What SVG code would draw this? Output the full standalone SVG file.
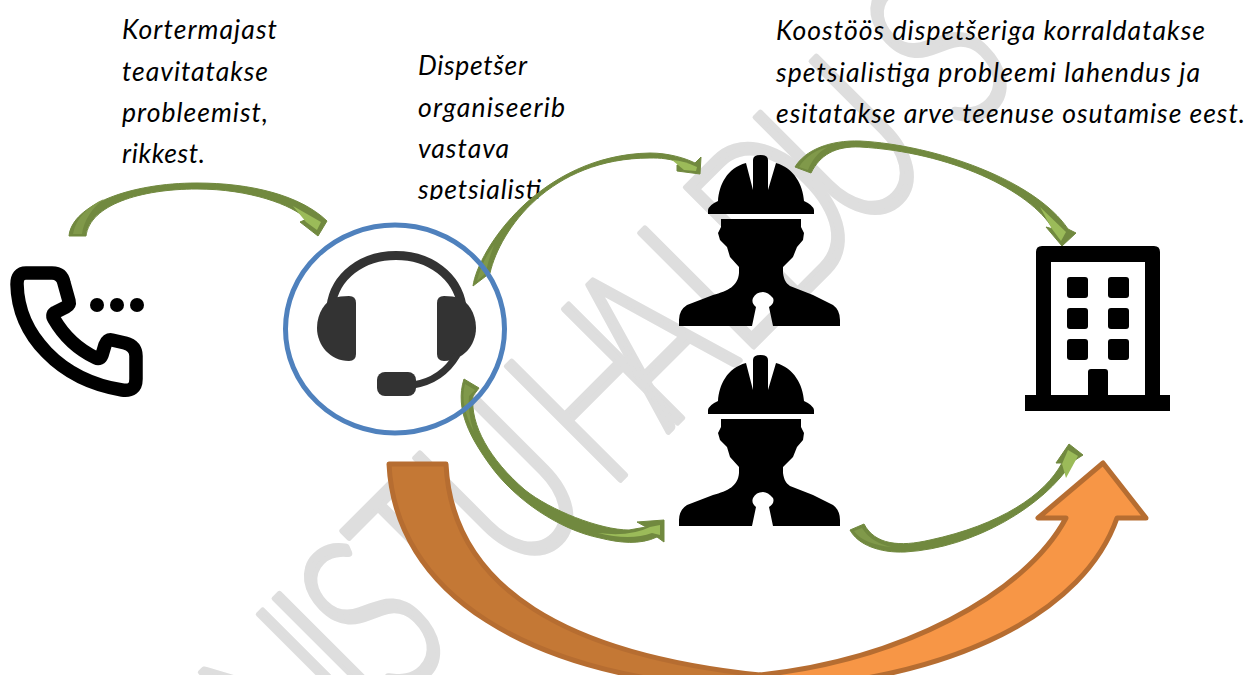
<svg xmlns="http://www.w3.org/2000/svg" xmlns:xlink="http://www.w3.org/1999/xlink" width="1248" height="675" viewBox="0 0 1248 675">
<style>
.lbl{font-family:Lato,"Open Sans","Liberation Sans",sans-serif;font-style:italic;font-size:26.5px;fill:#000}
.wm{font-family:Lato,"Open Sans","Liberation Sans",sans-serif;font-size:227px;font-weight:300;fill:#dedede;stroke:#dedede;stroke-width:5.5;stroke-linejoin:round}
.gr{fill:#71893f;stroke:#71893f;stroke-width:1;stroke-linejoin:round}
.lt{fill:#9bbb59}
.md{fill:#80994a}
.hs{fill:#333}
.or{stroke:#b66d31;stroke-width:5;stroke-linejoin:round}
</style>
<defs>
<clipPath id="c2"><rect x="400" y="40" width="200" height="160"/></clipPath>
<g id="worker">
<path d="M708 214V210Q709 205 718 201C719 185 727 168 746 163L753 190V160Q753 155 760.5 155Q768 155 768 160V190L776 163C794 168 803 185 804 201Q813 205 814 210V214Z"/>
<path d="M721 219H801V227L804 233L803 240L797 247L793 257L783 267V273C784 280 786 283 790 286L813 295L833 305Q840 310 840 320V326H773L769 307Q775 303 773 298Q768 292 763 292Q756 292 753 298Q751 303 756 307L752 326H679V320Q679 310 687 305L713 295C728 291 738 286 739 273V267L730 257L727 247L720 240L718 233L721 227Z"/>
</g>
</defs>
<rect width="1248" height="675" fill="#fff"/>
<g id="watermark" transform="rotate(-45) scale(.72,1)">
<text class="wm" y="778" x="-488 -343 -300 -190 -65 0 113 228 375 465 604 813">NISTU HALDUS</text>
</g>
<g id="labels">
<text class="lbl" x="122" y="39" textLength="155">Kortermajast</text>
<text class="lbl" x="122" y="81" textLength="146">teavitatakse</text>
<text class="lbl" x="122" y="122" textLength="146">probleemist,</text>
<text class="lbl" x="122" y="163" textLength="83">rikkest.</text>
<g clip-path="url(#c2)">
<text class="lbl" x="418" y="75" textLength="109">Dispetšer</text>
<text class="lbl" x="418" y="117" textLength="147">organiseerib</text>
<text class="lbl" x="418" y="158" textLength="91">vastava</text>
<text class="lbl" x="418" y="199" textLength="123">spetsialisti</text>
</g>
<text class="lbl" x="776" y="40" textLength="429">Koostöös dispetšeriga korraldatakse</text>
<text class="lbl" x="776" y="82" textLength="424">spetsialistiga probleemi lahendus ja</text>
<text class="lbl" x="776" y="123" textLength="469">esitatakse arve teenuse osutamise eest.</text>
</g>
<g id="phone">
<path d="M26 273H52Q62 273 64 283L69 301Q70 305 66 307L56 312Q51 314 54 319Q69 345 96 358Q100 360 102 355L105 345Q107 339 112 340L125 343Q136 346 136 356V379Q136 392 122 390C60 380 18 335 17 284Q17 273 26 273Z" fill="none" stroke="#000" stroke-width="13.5" stroke-linejoin="round"/>
<circle cx="97" cy="305" r="7"/><circle cx="117" cy="305" r="7"/><circle cx="137" cy="305" r="7"/>
</g>
<g id="worker-1"><use xlink:href="#worker" href="#worker"/></g>
<g id="worker-2"><use xlink:href="#worker" href="#worker" y="200"/></g>
<g id="building" transform="translate(-2 0)">
<path fill-rule="evenodd" d="M1044 246H1156Q1162 246 1162 252V395H1172V411H1027V395H1038V252Q1038 246 1044 246ZM1053 262V395H1090V372Q1090 369 1093 369H1107Q1110 369 1110 372V395H1147V262Z"/>
<rect x="1069" y="277" width="21" height="21" rx="3"/><rect x="1110" y="277" width="21" height="21" rx="3"/>
<rect x="1069" y="308" width="21" height="21" rx="3"/><rect x="1110" y="308" width="21" height="21" rx="3"/>
<rect x="1069" y="339" width="21" height="21" rx="3"/><rect x="1110" y="339" width="21" height="21" rx="3"/>
</g>
<g id="connectors">
<g id="c-phone-dispatcher">
<path class="gr" d="M69 236C72 205 130 183 197 183C250 183 300 195 327 221L318 236L300 222L307 219C292 205 250 189 197 189C140 189 90 205 86 236Z"/>
<path class="lt" d="M293 206L321 222L317 230L306 222Z"/>
<path class="md" d="M73 234C76 218 88 206 104 199C92 208 84 220 82 234Z"/>
</g>
<g id="c-dispatcher-worker1">
<path class="gr" d="M473 286C478 250 540 155 650 153C668 153 685 158 695 163L701 157L700 174L677 171L677 165L688 165C670 158 660 158 650 158C550 158 500 230 490 273Z"/>
<path class="lt" d="M672 160Q685 161 697 167L696 171L684 170Z"/>
<path class="md" d="M477 281C480 268 486 256 494 245C490 256 487 265 486 273Z"/>
</g>
<g id="c-worker1-building">
<path class="gr" d="M795 167C805 150 830 140 860 141C935 145 1035 180 1068 229L1076 233L1062 246L1046 227L1053 229C1030 190 950 152 860 147C835 146 820 155 811 173Z"/>
<path class="lt" d="M1040 207L1066 232L1061 241L1052 229Z"/>
<path class="md" d="M799 167C806 156 816 150 828 147C818 152 812 160 808 170Z"/>
</g>
<g id="c-dispatcher-worker2">
<path class="gr" d="M464 379L479 388L473 396C470 425 490 460 525 490C550 510 600 530 629 530L646 527L637 522L664 520V542L657 537C640 545 620 543 600 538C560 530 515 500 490 465C472 440 454 410 464 379Z"/>
<path class="lt" d="M598 533Q630 537 650 527L660 525V535L652 533Q630 541 598 533Z"/>
<path class="md" d="M465 384L475 390L469 396C468 408 470 420 474 432C465 415 461 398 465 384Z"/>
</g>
<g id="c-worker2-building">
<path class="gr" d="M850 530C858 545 880 553 905 552C975 548 1045 505 1072 462L1083 455L1069 444L1056 463L1062 463C1045 495 1000 525 930 540C900 547 875 545 864 524Z"/>
<path class="lt" d="M1068 450L1078 456L1066 478L1062 464Z"/>
<path class="md" d="M854 531L862 528C868 538 880 545 892 547C875 546 860 540 854 531Z"/>
</g>
<g id="c-dispatcher-building">
<path class="or" d="M760 690C960 680 1085 610 1117 518H1146L1103 463L1038 518H1066C1025 595 900 660 760 675Z" fill="#f79646"/>
<path class="or" d="M389 464H446C452 590 570 655 760 675V690C520 680 395 590 389 464Z" fill="#c47835"/>
</g>
</g>
<g id="dispatcher">
<path d="M331 306C335 276 362 255.500 396 255.500C430 255.500 457 276 462 306" fill="none" stroke="#333" stroke-width="9"/>
<path class="hs" d="M349 296Q356 296 356 303V354Q356 361 349 361C330 361 317 345 317 328C317 312 326 302 333 298Q340 296 349 296Z"/>
<path class="hs" d="M444 296Q437 296 437 303V354Q437 361 444 361C463 361 476 345 476 328C476 312 467 302 460 298Q453 296 444 296Z"/>
<path d="M457 355C447 372 432 382 413 385" fill="none" stroke="#333" stroke-width="7"/>
<rect class="hs" x="377" y="372" width="39" height="24" rx="8"/>
<ellipse cx="395" cy="329" rx="109.500" ry="104" fill="none" stroke="#4f81bd" stroke-width="5"/>
</g>
</svg>
